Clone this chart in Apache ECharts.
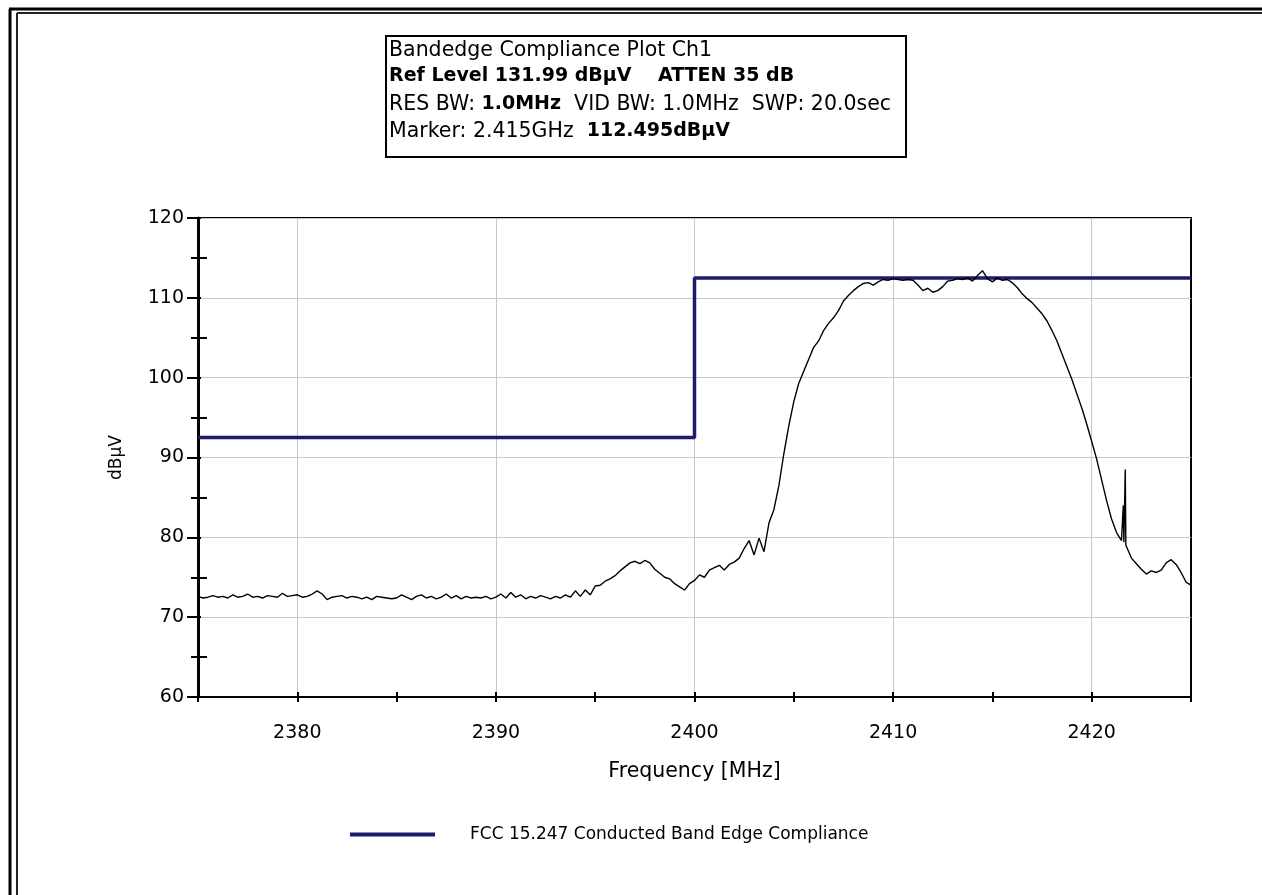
<!DOCTYPE html>
<html><head><meta charset="utf-8">
<script src="https://cdn.jsdelivr.net/npm/echarts@6/dist/echarts.min.js"></script>
<style>html,body{margin:0;padding:0;background:#fff}#c{width:1262px;height:895px}</style>
</head><body><div id="c"></div>
<script>
// Sweep definition (MHz)
const sweepStart = 2375;
const sweepStep = 0.25;
// Measured trace level (dBµV), one value per sweep point 2375.00 ... 2425.00
const traceLevel = [
  // 2375 - 2379.75
  72.6, 72.4, 72.5, 72.7, 72.5, 72.6, 72.4, 72.8, 72.5, 72.6, 72.9, 72.5, 72.6, 72.4, 72.7, 72.6, 72.5, 73.0, 72.6, 72.7,
  // 2380 - 2384.75
  72.8, 72.5, 72.6, 72.9, 73.3, 72.9, 72.2, 72.5, 72.6, 72.7, 72.4, 72.6, 72.5, 72.3, 72.5, 72.2, 72.6, 72.5, 72.4, 72.3,
  // 2385 - 2389.75
  72.4, 72.8, 72.5, 72.2, 72.6, 72.8, 72.4, 72.6, 72.3, 72.5, 72.9, 72.4, 72.7, 72.3, 72.6, 72.4, 72.5, 72.4, 72.6, 72.3,
  // 2390 - 2394.75
  72.5, 72.9, 72.4, 73.1, 72.5, 72.8, 72.3, 72.6, 72.4, 72.7, 72.5, 72.3, 72.6, 72.4, 72.8, 72.5, 73.3, 72.6, 73.4, 72.8,
  // 2395 - 2399.75
  73.9, 74.0, 74.5, 74.8, 75.2, 75.8, 76.3, 76.8, 77.0, 76.7, 77.1, 76.8, 76.0, 75.5, 75.0, 74.8, 74.2, 73.8, 73.4, 74.2,
  // 2400 - 2404.75
  74.6, 75.3, 75.0, 75.9, 76.2, 76.5, 75.9, 76.6, 76.9, 77.4, 78.6, 79.6, 77.8, 79.9, 78.2, 81.8, 83.5, 86.5, 90.5, 94.0,
  // 2405 - 2409.75
  97.0, 99.3, 100.8, 102.3, 103.8, 104.6, 105.9, 106.8, 107.5, 108.4, 109.6, 110.3, 110.9, 111.4, 111.8, 111.9, 111.6, 112.0, 112.3, 112.2,
  // 2410 - 2414.75
  112.4, 112.3, 112.2, 112.3, 112.2, 111.6, 110.9, 111.2, 110.7, 110.9, 111.4, 112.1, 112.2, 112.4, 112.3, 112.5, 112.1, 112.8, 113.4, 112.4,
  // 2415 - 2419.75
  112.0, 112.5, 112.2, 112.3, 111.9, 111.3, 110.5, 109.9, 109.4, 108.7, 108.0, 107.1, 105.9, 104.6, 103.0, 101.4, 99.8, 98.0, 96.2, 94.2,
  // 2420 - 2424.75
  92.0, 89.8, 87.2, 84.6, 82.3, 80.6, 79.6, 79.0, 77.4, 76.7, 76.0, 75.4, 75.8, 75.6, 75.9, 76.8, 77.2, 76.6, 75.6, 74.4,
  // 2425
  74.0
];
// Narrow spurious emission near 2421.7 MHz
const spurFreq  = [2421.56, 2421.59, 2421.62, 2421.66, 2421.69, 2421.72];
const spurLevel = [79.6, 84.0, 79.4, 79.2, 88.5, 79.0];
// Limit line
const limitFreq  = [2375, 2400, 2400, 2425];
const limitLevel = [92.5, 92.5, 112.5, 112.5];
const limitName = 'FCC 15.247 Conducted Band Edge Compliance';
// Info box
const infoLines = [
  [['Bandedge Compliance Plot Ch1', 'n']],
  [['Ref Level 131.99 dBµV    ATTEN 35 dB', 'b']],
  [['RES BW: ', 'n'], ['1.0MHz', 'b'], ['  VID BW: 1.0MHz  SWP: 20.0sec', 'n']],
  [['Marker: 2.415GHz  ', 'n'], ['112.495dBµV', 'b']]
];

const FONT = 'DejaVu Sans';
let trace = traceLevel.map((v, i) => [sweepStart + i * sweepStep, v]);
spurFreq.forEach((f, i) => trace.push([f, spurLevel[i]]));
trace.sort((a, b) => a[0] - b[0]);
const limit = limitFreq.map((f, i) => [f, limitLevel[i]]);

const grid = {left: 198, top: 218, width: 993, height: 479};
const xCommon = {type: 'value', min: 2375, max: 2425, interval: 5};
const yCommon = {type: 'value', min: 60, max: 120};
const tickLine = {color: '#000', width: 2};
const labelFmt = v => (v % 10 === 0 ? String(v) : '');

const graphic = [
  // outer double frame
  {type: 'line', shape: {x1: 10, y1: 9, x2: 10, y2: 895}, style: {stroke: '#000', lineWidth: 3}},
  {type: 'line', shape: {x1: 9, y1: 9, x2: 1262, y2: 9}, style: {stroke: '#000', lineWidth: 3}},
  {type: 'line', shape: {x1: 17, y1: 13, x2: 17, y2: 895}, style: {stroke: '#222', lineWidth: 2}},
  {type: 'line', shape: {x1: 17, y1: 13, x2: 1262, y2: 13}, style: {stroke: '#222', lineWidth: 2}},
  // info box
  {type: 'rect', shape: {x: 386, y: 36, width: 520, height: 121}, style: {fill: '#fff', stroke: '#000', lineWidth: 2}}
];
infoLines.forEach((parts, i) => {
  graphic.push({
    type: 'text', left: 389, top: 40 + i * 27,
    style: {
      text: parts.map(p => '{' + p[1] + '|' + p[0] + '}').join(''),
      rich: {
        n: {fontFamily: FONT, fontSize: 20.5, fill: '#000'},
        b: {fontFamily: FONT, fontSize: 19, fontWeight: 'bold', fill: '#000'}
      }
    }
  });
});

const option = {
  animation: false,
  backgroundColor: '#fff',
  grid: Object.assign({show: true, borderColor: '#000', borderWidth: 2, backgroundColor: '#fff'}, grid),
  graphic: graphic,
  legend: {
    data: [limitName], left: 350, top: 826, padding: 0,
    icon: 'rect', itemWidth: 85, itemHeight: 4,
    textStyle: {fontFamily: FONT, fontSize: 17, color: '#000', padding: [0, 0, 0, 30]}
  },
  xAxis: [
    Object.assign({}, xCommon, {
      position: 'bottom',
      name: 'Frequency [MHz]', nameLocation: 'middle', nameGap: 64,
      nameTextStyle: {fontFamily: FONT, fontSize: 20.5, color: '#000'},
      axisLine: {show: true, onZero: false, lineStyle: {color: '#000', width: 2}},
      axisTick: {show: true, inside: false, length: 5, lineStyle: tickLine},
      axisLabel: {margin: 27, fontFamily: FONT, fontSize: 19, color: '#000', formatter: labelFmt},
      // grid lines only on the 10 MHz ticks (2375 is index 0, 2380 index 1, ...)
      splitLine: {show: true, lineStyle: {color: ['rgba(0,0,0,0)', '#c8c8c8'], width: 1}}
    }),
    Object.assign({}, xCommon, {
      position: 'bottom',
      axisLine: {show: false, onZero: false},
      axisTick: {show: true, inside: true, length: 5, lineStyle: tickLine},
      axisLabel: {show: false}, splitLine: {show: false}
    })
  ],
  yAxis: [
    Object.assign({}, yCommon, {
      interval: 10, position: 'left',
      name: 'dBµV', nameLocation: 'middle', nameGap: 73, nameRotate: 90,
      nameTextStyle: {fontFamily: FONT, fontSize: 17, color: '#000'},
      axisLine: {show: true, onZero: false, lineStyle: {color: '#000', width: 3}},
      axisTick: {show: true, inside: false, length: 11, lineStyle: tickLine},
      minorTick: {show: true, splitNumber: 2, length: 7, lineStyle: tickLine},
      axisLabel: {margin: 14, fontFamily: FONT, fontSize: 19, color: '#000', formatter: labelFmt},
      splitLine: {show: true, lineStyle: {color: '#c8c8c8', width: 1}}
    }),
    Object.assign({}, yCommon, {
      interval: 10, position: 'left',
      axisLine: {show: false, onZero: false},
      axisTick: {show: true, inside: true, length: 3, lineStyle: tickLine},
      minorTick: {show: true, splitNumber: 2, length: 9, lineStyle: tickLine},
      axisLabel: {show: false}, splitLine: {show: false}
    })
  ],
  series: [
    {
      name: limitName, type: 'line', data: limit, showSymbol: false, symbol: 'none',
      xAxisIndex: 0, yAxisIndex: 0,
      lineStyle: {color: '#1c1d6b', width: 3.5}, itemStyle: {color: '#1c1d6b'}, z: 2
    },
    {
      name: 'Trace', type: 'line', data: trace, showSymbol: false, symbol: 'none',
      xAxisIndex: 0, yAxisIndex: 0,
      lineStyle: {color: '#000', width: 1.4}, itemStyle: {color: '#000'}, z: 3
    }
  ]
};
echarts.init(document.getElementById('c')).setOption(option);
</script>
</body></html>
